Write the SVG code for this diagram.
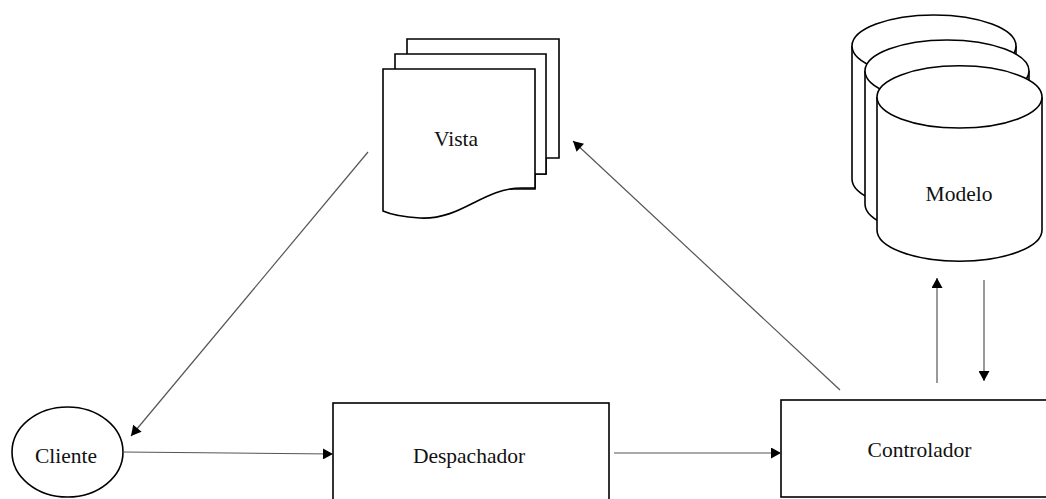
<svg xmlns="http://www.w3.org/2000/svg" width="1046" height="499" viewBox="0 0 1046 499">
  <style>
    .shape { fill: #ffffff; stroke: #000000; stroke-width: 1.6; stroke-linejoin: miter; }
    .label { font-family: "Liberation Serif", "Times New Roman", serif; font-size: 21.5px; fill: #111111; text-anchor: middle; }
    .link { fill: none; stroke: #555555; stroke-width: 1.2; marker-end: url(#arrow); }
  </style>
  <defs>
    <marker id="arrow" markerUnits="userSpaceOnUse" markerWidth="11" markerHeight="11" viewBox="0 0 10 11" refX="10" refY="5.5" orient="auto">
      <path d="M0,0 L10,5.5 L0,11 Z" fill="#000000"/>
    </marker>
  </defs>
  <rect width="1046" height="499" fill="#ffffff"/>

  <!-- Vista: stacked documents -->
  <g id="vista">
    <path class="shape" d="M407,39 H559 V158 H546 V174 H407 Z"/>
    <path class="shape" d="M395,54 H546 V174 H535 V189 H395 Z"/>
    <path class="shape" d="M383,69 H535 V188 L522,188 C482,188 462,220 420,218 C402,217 392,215 383,211 Z"/>
    <text class="label" x="456" y="146">Vista</text>
  </g>

  <!-- Modelo: stacked cylinders -->
  <g id="modelo">
    <path class="shape" d="M852,46 V179 A82,31 0 0 0 1016,179 V46 A82,31 0 0 0 852,46 Z"/>
    <path class="shape" d="M852,46 A82,31 0 0 0 1016,46"/>
    <path class="shape" d="M865,71 V204 A82,31 0 0 0 1029,204 V71 A82,31 0 0 0 865,71 Z"/>
    <path class="shape" d="M865,71 A82,31 0 0 0 1029,71"/>
    <path class="shape" d="M877,97 V230 A82,31 0 0 0 1042,230 V97 A82,31 0 0 0 877,97 Z"/>
    <path class="shape" d="M877,97 A82.5,31 0 0 0 1042,97"/>
    <text class="label" x="959" y="201">Modelo</text>
  </g>

  <!-- Cliente -->
  <g id="cliente">
    <ellipse class="shape" cx="67.5" cy="452" rx="55.5" ry="45"/>
    <text class="label" x="66" y="463">Cliente</text>
  </g>

  <!-- Despachador -->
  <g id="despachador">
    <rect class="shape" x="333" y="403" width="276" height="100"/>
    <text class="label" x="469" y="463">Despachador</text>
  </g>

  <!-- Controlador -->
  <g id="controlador">
    <rect class="shape" x="781" y="400" width="277" height="97"/>
    <text class="label" x="919.5" y="457">Controlador</text>
  </g>

  <!-- Connectors -->
  <g id="connectors">
    <line class="link" x1="368" y1="152" x2="131" y2="436"/>
    <line class="link" x1="123" y1="452" x2="333" y2="454"/>
    <line class="link" x1="614" y1="453" x2="781" y2="453"/>
    <line class="link" x1="840" y1="390" x2="573" y2="141"/>
    <line class="link" x1="937" y1="383" x2="937" y2="278"/>
    <line class="link" x1="984" y1="280" x2="984" y2="381"/>
  </g>
</svg>
